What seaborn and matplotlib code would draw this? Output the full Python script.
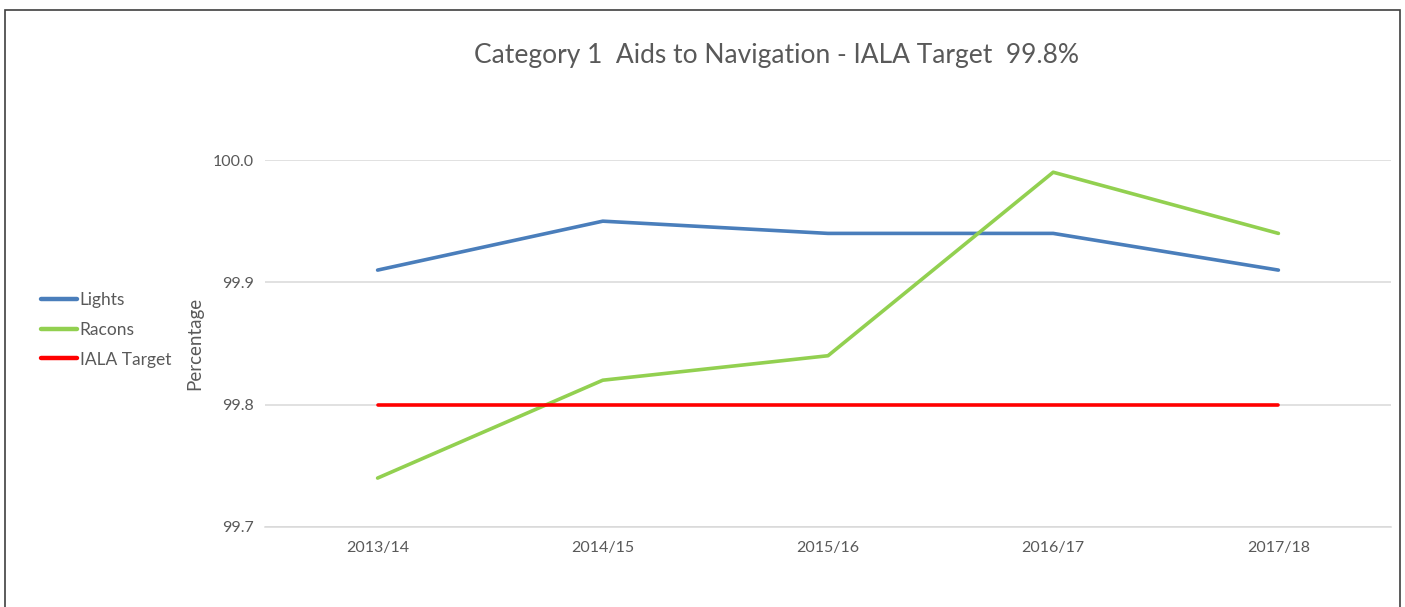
import matplotlib
matplotlib.use("Agg")
import matplotlib.pyplot as plt
import seaborn as sns
import pandas as pd
from matplotlib.patches import Rectangle
from matplotlib.lines import Line2D

years = ["2013/14", "2014/15", "2015/16", "2016/17", "2017/18"]
lights = [99.91, 99.95, 99.94, 99.94, 99.91]
racons = [99.74, 99.82, 99.84, 99.99, 99.94]
iala_target = [99.8, 99.8, 99.8, 99.8, 99.8]
series_names = ["Lights", "Racons", "IALA Target"]
colors = ["#4A7EBB", "#92D050", "#FF0000"]
yticks = [99.7, 99.8, 99.9, 100.0]

sns.set_theme(style="white")
plt.rcParams["font.family"] = ["Lato", "DejaVu Sans"]

rows = []
for name, vals in zip(series_names, [lights, racons, iala_target]):
    for i, (y, v) in enumerate(zip(years, vals)):
        rows.append({"Year": y, "idx": i, "Value": v, "Series": name})
df = pd.DataFrame(rows)

fig = plt.figure(figsize=(14.05, 6.07), dpi=100)
ax = fig.add_axes([265/1405, 1-527/607, (1391-265)/1405, (527-160)/607])

sns.lineplot(data=df, x="idx", y="Value", hue="Series", hue_order=series_names,
             palette=colors, linewidth=2.6, ax=ax, legend=False, sort=False)

ax.set_xlim(-0.5, 4.5)
ax.set_ylim(99.7, 100.0)
ax.set_xticks(range(len(years)))
ax.set_xticklabels(years)
ax.set_yticks(yticks)
ax.set_yticklabels([f"{t:.1f}" for t in yticks])
ax.tick_params(axis="both", length=0, labelsize=11.5, colors="#595959")
ax.tick_params(axis="x", pad=10)
ax.tick_params(axis="y", pad=8)
ax.grid(axis="y", color="#D9D9D9", linewidth=1.1)
ax.grid(axis="x", visible=False)
for s in ["top", "right", "left"]:
    ax.spines[s].set_visible(False)
ax.spines["bottom"].set_color("#D9D9D9")
ax.spines["bottom"].set_linewidth(1.1)
ax.set_axisbelow(True)
ax.set_xlabel("")
ax.set_ylabel("Percentage", fontsize=13.5, color="#595959", labelpad=7)

fig.text(776/1405, 1-55/607, "Category 1  Aids to Navigation - IALA Target  99.8%",
         ha="center", va="center", fontsize=19, color="#595959")

handles = [Line2D([0], [0], color=c, linewidth=3.2) for c in colors]
fig.legend(handles, series_names, loc="center left",
           bbox_to_anchor=(25/1405, 1-330/607), frameon=False,
           fontsize=12.5, labelcolor="#595959", handlelength=2.1,
           handletextpad=0.15, labelspacing=0.78)

fig.patches.append(Rectangle((5/1405, -0.05), 1395/1405, 1.05-10/607,
                             transform=fig.transFigure, fill=False,
                             edgecolor="#404040", linewidth=1.2))

fig.savefig("out.png", dpi=100)
